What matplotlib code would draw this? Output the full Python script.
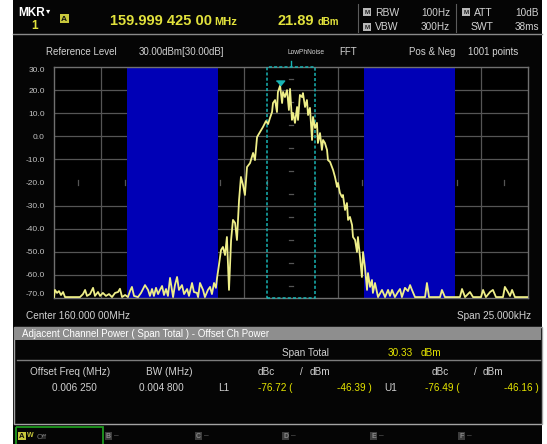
import numpy as np
import matplotlib
matplotlib.use("Agg")
import matplotlib.pyplot as plt
from matplotlib.patches import Rectangle
from matplotlib.transforms import offset_copy

plt.rcParams['font.family'] = ['Liberation Sans', 'DejaVu Sans']

# Sweep settings
center_mhz = 160.0
span_khz = 25.0
ref_level = 30.0
db_per_div = 10.0
n_div = 10

# Channel layout (kHz)
main_bw_khz = 2.5
adj_offset_khz = 6.25
adj_bw_khz = 4.8

# Marker 1
mkr_offset_khz = -0.575
mkr_level = 21.89

# Measured trace: offset from centre (kHz) and level (dBm)
trace_khz = [
    -12.50, -12.45, -12.34, -12.24, -12.13, -12.02, -11.92, -11.39, -11.13, -10.97,
    -10.86, -10.76, -10.60, -10.44, -10.34, -10.18, -10.07, -9.92, -9.76, -9.60,
    -9.44, -9.28, -9.12, -9.02, -8.91, -8.75, -8.60, -8.49, -8.39, -8.28,
    -8.07, -7.91, -7.70, -7.54, -7.44, -7.33, -7.23, -7.12, -7.01, -6.91,
    -6.80, -6.70, -6.59, -6.49, -6.38, -6.28, -6.22, -6.12, -6.01, -5.91,
    -5.75, -5.64, -5.48, -5.38, -5.22, -5.12, -4.96, -4.90, -4.80, -4.64,
    -4.54, -4.38, -4.27, -4.17, -4.06, -3.96, -3.90, -3.80, -3.69, -3.59,
    -3.48, -3.38, -3.27, -3.16, -3.06, -2.95, -2.85, -2.74, -2.64, -2.53,
    -2.43, -2.32, -2.16, -2.00, -1.90, -1.79, -1.63, -1.48, -1.32, -1.21,
    -1.11, -1.00, -0.95, -0.84, -0.74, -0.69, -0.575, -0.47, -0.42, -0.32,
    -0.21, -0.11, -0.05, 0.05, 0.11, 0.21, 0.32, 0.37, 0.47, 0.58,
    0.63, 0.74, 0.84, 0.90, 1.00, 1.11, 1.16, 1.27, 1.37, 1.42,
    1.53, 1.63, 1.69, 1.79, 1.90, 1.95, 2.06, 2.16, 2.22, 2.32,
    2.43, 2.48, 2.58, 2.69, 2.74, 2.85, 2.95, 3.01, 3.11, 3.22,
    3.27, 3.38, 3.48, 3.53, 3.64, 3.74, 3.80, 3.90, 4.01, 4.06,
    4.17, 4.27, 4.32, 4.43, 4.54, 4.59, 4.80, 4.96, 5.12, 5.22,
    5.33, 5.48, 5.64, 5.75, 5.85, 6.01, 6.17, 6.28, 6.38, 6.54,
    7.07, 7.17, 7.28, 7.86, 7.96, 8.12, 8.91, 9.02, 9.18, 9.44,
    9.60, 10.02, 10.13, 10.28, 10.50, 10.65, 10.81, 11.18, 11.28, 11.44,
    11.55, 11.66, 11.81, 12.50,
]
trace_dbm = [
    -69.6, -66.5, -67.8, -67.0, -68.7, -67.4, -69.6, -69.6, -69.6, -68.3,
    -66.5, -69.1, -68.3, -65.6, -69.1, -67.4, -69.1, -67.8, -69.1, -68.3,
    -69.6, -67.8, -67.4, -66.0, -69.6, -68.7, -69.6, -67.0, -65.2, -69.1,
    -69.6, -67.8, -64.4, -66.5, -69.1, -66.1, -69.1, -65.6, -68.3, -66.5,
    -64.8, -68.7, -66.1, -69.1, -61.3, -66.5, -69.6, -64.4, -60.9, -66.5,
    -64.4, -68.3, -66.1, -69.1, -63.5, -67.4, -67.8, -69.6, -63.5, -66.5,
    -69.6, -66.5, -65.2, -68.3, -63.5, -65.6, -61.3, -55.7, -49.2, -47.9,
    -51.4, -43.6, -66.5, -44.9, -36.2, -37.5, -44.9, -27.6, -17.6, -21.1,
    -25.4, -13.3, -11.6, -7.2, -10.3, -0.3, 1.9, 4.0, 6.6, 5.3,
    7.9, 10.5, 14.4, 15.7, 10.5, 19.2, 21.89, 14.4, 19.2, 17.0,
    20.0, 11.4, 20.5, 7.1, 10.1, 5.8, 12.7, 7.1, 17.9, 17.0,
    18.7, 12.7, 15.7, 9.2, 12.3, -1.6, 8.4, 3.6, 5.8, -2.9,
    1.4, -5.9, -1.6, -2.9, -5.9, -10.3, -11.1, -13.3, -14.6, -17.6,
    -21.9, -20.2, -24.5, -26.3, -25.4, -31.9, -28.9, -36.2, -34.9, -38.4,
    -43.6, -44.9, -50.1, -43.6, -52.3, -60.9, -50.1, -56.6, -66.5, -59.2,
    -65.2, -62.2, -67.8, -63.5, -67.8, -69.6, -66.5, -69.6, -66.5, -69.1,
    -66.5, -69.6, -67.4, -66.1, -69.6, -65.6, -67.0, -64.4, -66.5, -69.6,
    -69.6, -63.5, -69.6, -69.6, -66.5, -69.6, -69.6, -66.1, -69.6, -67.4,
    -69.6, -69.6, -66.5, -69.6, -67.4, -66.5, -69.6, -69.6, -65.2, -67.4,
    -69.1, -66.5, -69.6, -69.6,
]

# Colours
BG = '#050505'
YEL = '#e2e23c'
VAL = '#e6e600'
TXT = '#d2d2d2'
DIM = '#6c6c6c'
GRID = '#555555'
CYAN = '#18b4b4'
BLUE = '#0000b6'
TRACE = '#eeee88'

fig = plt.figure(figsize=(5.47, 4.44), dpi=100, facecolor='white')

# Screen furniture in pixel coordinates
ui = fig.add_axes([0, 0, 1, 1])
ui.set_xlim(0, 547)
ui.set_ylim(444, 0)
ui.axis('off')
ui.set_zorder(0)


def txt(x, y, s, color=TXT, size=7, ha='left', va='center', **kw):
    ui.text(x, y, s, color=color, fontsize=size, ha=ha, va=va, **kw)


def keybox(x, y, letter, fc, tc, w=8, h=8, size=5.5):
    ui.add_patch(Rectangle((x, y), w, h, facecolor=fc, edgecolor='none'))
    ui.text(x + w / 2, y + h / 2 + 0.3, letter, color=tc, fontsize=size,
            ha='center', va='center', weight='bold')


ui.add_patch(Rectangle((13, 0), 529, 444, facecolor=BG, edgecolor='none'))

# Header bar
ui.plot([13, 542], [34.5, 34.5], color='#8a8a8a', lw=1)
ui.plot([358, 358], [4, 32], color='#5c5c5c', lw=0.8)
ui.plot([456, 456], [4, 32], color='#5c5c5c', lw=0.8)

txt(18, 13, 'MKR', color='white', size=8.5, weight='bold')
txt(46, 12, '▾', color='white', size=6)
txt(35, 26, '1', color=YEL, size=8.5, ha='center', weight='bold')
keybox(59.5, 14.5, 'A', '#c8c83c', '#101010', w=9, h=9, size=6)

txt(110, 25, '159.999 425 00', color=YEL, size=10.5, va='baseline', weight='bold')
txt(214, 25, 'MHz', color=YEL, size=8, va='baseline', weight='bold')
txt(277, 25, '21.89', color=YEL, size=10.5, va='baseline', weight='bold')
txt(318, 25, 'dBm', color=YEL, size=7, va='baseline', weight='bold')

keybox(363, 8.5, 'M', '#b8b8b8', '#202020', w=8, h=8, size=4.5)
keybox(363, 23, 'M', '#b8b8b8', '#202020', w=8, h=8, size=4.5)
txt(375, 12.5, 'RBW', size=7.5)
txt(375, 27, 'VBW', size=7.5)
txt(450, 12.5, '100Hz', size=7.2, ha='right')
txt(450, 27, '300Hz', size=7.2, ha='right')
keybox(462, 8.5, 'M', '#b8b8b8', '#202020', w=8, h=8, size=4.5)
txt(474, 12.5, 'ATT', size=7.5)
txt(493, 27, 'SWT', size=7.5, ha='right')
txt(539, 12.5, '10dB', size=7.2, ha='right')
txt(539, 27, '38ms', size=7.2, ha='right')

# Settings row
txt(46, 52, 'Reference Level', size=7)
txt(139, 52, '30.00dBm[30.00dB]', size=7)
txt(288, 53, 'LowPhNoise', size=4.8)
txt(339, 52, 'FFT', size=7)
txt(409, 52, 'Pos & Neg', size=7)
txt(468, 52, '1001 points', size=7)

# Frequency annotations under the graticule
txt(26, 316, f'Center {center_mhz:.3f} 00MHz', size=7.2)
txt(531, 316, f'Span {span_khz:.3f}kHz', size=7.2, ha='right')

# Result table
ui.add_patch(Rectangle((13.5, 327), 528, 96.5, facecolor=BG,
                       edgecolor='#a4a4a4', lw=1))
ui.add_patch(Rectangle((14, 327), 527, 13, facecolor='#8e8e8e', edgecolor='none'))
txt(22, 333.5, 'Adjacent Channel Power ( Span Total ) - Offset Ch Power',
    color='white', size=7)
ui.plot([17, 540], [360, 360], color='#7c7c7c', lw=1)
txt(282, 353, 'Span Total', size=7.2)
txt(388, 353, '30.33', color=VAL, size=7.2)
txt(421, 353, 'dBm', color=VAL, size=7.2)

txt(30, 372, 'Offset Freq (MHz)', size=7.2)
txt(146, 372, 'BW (MHz)', size=7.2)
txt(258, 372, 'dBc', size=7.2)
txt(300, 372, '/', size=7.2)
txt(310, 372, 'dBm', size=7.2)
txt(432, 372, 'dBc', size=7.2)
txt(474, 372, '/', size=7.2)
txt(483, 372, 'dBm', size=7.2)

txt(52, 388, '0.006 250', size=7.2)
txt(139, 388, '0.004 800', size=7.2)
txt(218, 388, 'L1', size=7.2)
txt(258, 388, '-76.72 (', color=VAL, size=7.2)
txt(372, 388, '-46.39 )', color=VAL, size=7.2, ha='right')
txt(384, 388, 'U1', size=7.2)
txt(425, 388, '-76.49 (', color=VAL, size=7.2)
txt(539, 388, '-46.16 )', color=VAL, size=7.2, ha='right')

# Soft keys
ui.add_patch(Rectangle((15.5, 426.5), 87, 22, facecolor='none',
                       edgecolor='#1e9a1e', lw=1.3))
keybox(18, 432, 'A', '#c8c83c', '#101010', w=8, h=8, size=5.5)
txt(26.5, 435, 'W', color='#c8c83c', size=5, weight='bold')
txt(37, 437, 'Off', color='#7a7a7a', size=5.5)
for x0, key in zip([105, 195, 282, 370, 458], ['B', 'C', 'D', 'E', 'F']):
    keybox(x0, 432, key, '#3c3c3c', '#8a8a8a', w=7, h=8, size=5)
    txt(x0 + 9, 436, '–', color=DIM, size=6)

# Cyan marker tick above the graticule
ui.plot([291, 291], [61, 67], color=CYAN, lw=1)

# Graticule
ax = fig.add_axes([54 / 547, 146 / 444, 474 / 547, 231 / 444])
ax.set_zorder(2)
ax.set_facecolor('black')
half = span_khz / 2
bottom = ref_level - n_div * db_per_div
ax.set_xlim(-half, half)
ax.set_ylim(bottom, ref_level)

xdiv = np.linspace(-half, half, n_div + 1)
ydiv = ref_level - db_per_div * np.arange(n_div + 1)
for i in range(1, n_div):
    if i != n_div // 2:
        ax.axvline(xdiv[i], color=GRID, lw=0.9, zorder=1)
        ax.axhline(ydiv[i], color=GRID, lw=0.9, zorder=1)

# Centre cross drawn as short ticks at half divisions
xc, yc = xdiv[n_div // 2], ydiv[n_div // 2]
xstep = xdiv[1] - xdiv[0]
ystep = ydiv[0] - ydiv[1]
for k in range(n_div):
    xm = xdiv[k] + xstep / 2
    ym = ydiv[k] - ystep / 2
    ax.plot([xm, xm], [yc - 0.9, yc + 0.9], color=GRID, lw=0.9, zorder=1)
    ax.plot([xc - 0.1, xc + 0.1], [ym, ym], color=GRID, lw=0.9, zorder=1)

# Adjacent channels
for sgn in (-1, 1):
    c = sgn * adj_offset_khz
    ax.axvspan(c - adj_bw_khz / 2, c + adj_bw_khz / 2, color=BLUE, lw=0, zorder=2)

# Main channel
ax.add_patch(Rectangle((-main_bw_khz / 2, bottom), main_bw_khz, ref_level - bottom,
                       fill=False, edgecolor=CYAN, lw=1.1, ls=(0, (2, 1.4)),
                       zorder=3, clip_on=False))

ax.plot(trace_khz, trace_dbm, color=TRACE, lw=1.3, zorder=4)

# Marker 1 triangle, tip on the trace point
tri = [(-1, 0.6), (1, 0.6), (0, -0.6)]
ax.plot([mkr_offset_khz], [mkr_level], marker=tri, ms=6, color=CYAN, ls='none',
        transform=offset_copy(ax.transData, fig=fig, y=2.4, units='dots'), zorder=5)

ax.set_xticks([])
ax.set_yticks(ydiv)
ax.set_yticklabels([f'{v:.1f}' for v in ydiv])
ax.tick_params(axis='y', length=0, pad=6.5, labelsize=6, labelcolor='#c4c4c4')
for s in ax.spines.values():
    s.set_color('#707070')
    s.set_linewidth(1)

fig.canvas.draw()
labels = ax.get_yticklabels()
labels[0].set_va('top')
labels[-1].set_va('bottom')

fig.savefig('out.png', dpi=100, facecolor='white')
